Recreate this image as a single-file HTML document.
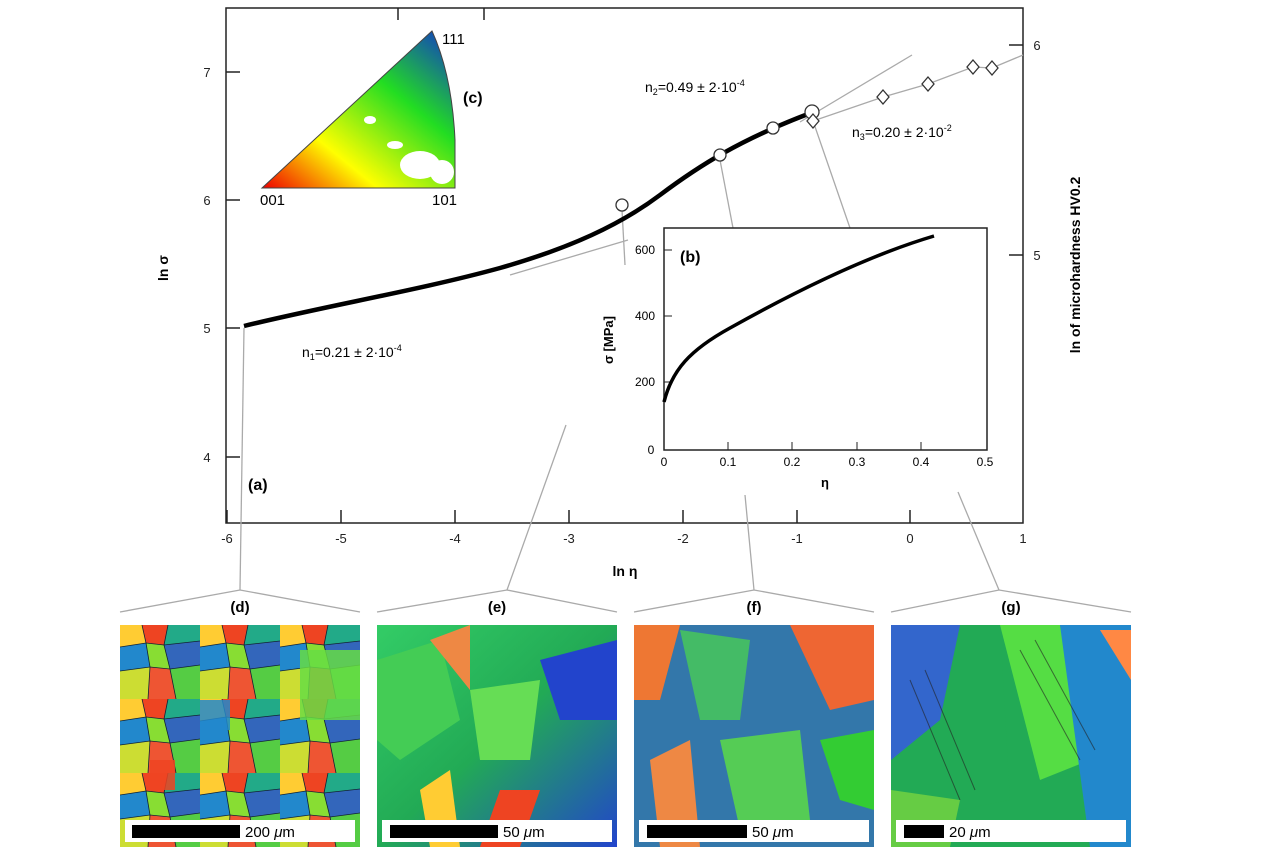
<!DOCTYPE html><html><head><style>body{margin:0;background:#fff}svg{display:block}text{font-family:"Liberation Sans",sans-serif}</style></head><body>
<svg width="1280" height="854" viewBox="0 0 1280 854" xmlns="http://www.w3.org/2000/svg">
<defs>
<linearGradient id="ipf1" x1="0" y1="1" x2="1" y2="0"><stop offset="0" stop-color="#e00"/><stop offset="0.3" stop-color="#ff0"/><stop offset="0.65" stop-color="#2d2"/><stop offset="1" stop-color="#13c"/></linearGradient>
<linearGradient id="ge" x1="0" y1="0" x2="1" y2="1"><stop offset="0" stop-color="#3c6"/><stop offset="0.5" stop-color="#2a5"/><stop offset="1" stop-color="#24c"/></linearGradient>
<pattern id="grains" x="120" y="625" width="80" height="74" patternUnits="userSpaceOnUse">
<rect width="80" height="74" fill="#3a7"/>
<polygon points="0,0 22,0 26,18 0,22" fill="#fc3"/><polygon points="22,0 48,0 44,20 26,18" fill="#e42"/><polygon points="48,0 80,0 80,16 44,20" fill="#2a8"/>
<polygon points="0,22 26,18 30,42 0,46" fill="#28c"/><polygon points="26,18 44,20 50,44 30,42" fill="#8d3"/><polygon points="44,20 80,16 80,40 50,44" fill="#36b"/>
<polygon points="0,46 30,42 28,74 0,74" fill="#cd3"/><polygon points="30,42 50,44 56,74 28,74" fill="#e53"/><polygon points="50,44 80,40 80,74 56,74" fill="#5c4"/>
<g stroke="#123" stroke-width="0.8" fill="none"><polyline points="0,22 26,18 44,20 80,16"/><polyline points="0,46 30,42 50,44 80,40"/><polyline points="22,0 26,18 30,42 28,74"/><polyline points="48,0 44,20 50,44 56,74"/></g>
</pattern>
</defs>
<rect x="226" y="8" width="797" height="515" fill="none" stroke="#222" stroke-width="1.5"/>
<g stroke="#222" stroke-width="1.5">
<line x1="227" y1="523" x2="227" y2="510"/><line x1="341" y1="523" x2="341" y2="510"/><line x1="455" y1="523" x2="455" y2="510"/><line x1="569" y1="523" x2="569" y2="510"/><line x1="683" y1="523" x2="683" y2="510"/><line x1="797" y1="523" x2="797" y2="510"/><line x1="910" y1="523" x2="910" y2="510"/>
<line x1="226" y1="72" x2="240" y2="72"/><line x1="226" y1="200" x2="240" y2="200"/><line x1="226" y1="328" x2="240" y2="328"/><line x1="226" y1="457" x2="240" y2="457"/>
<line x1="1023" y1="45" x2="1009" y2="45"/><line x1="1023" y1="255" x2="1009" y2="255"/>
<line x1="398" y1="8" x2="398" y2="20"/><line x1="484" y1="8" x2="484" y2="20"/>
</g>
<g font-size="13" fill="#222" text-anchor="middle">
<text x="227" y="543">-6</text><text x="341" y="543">-5</text><text x="455" y="543">-4</text><text x="569" y="543">-3</text><text x="683" y="543">-2</text><text x="797" y="543">-1</text><text x="910" y="543">0</text><text x="1023" y="543">1</text>
<text x="207" y="77">7</text><text x="207" y="205">6</text><text x="207" y="333">5</text><text x="207" y="462">4</text>
<text x="1037" y="50">6</text><text x="1037" y="260">5</text>
</g>
<text x="625" y="576" font-size="14" font-weight="bold" text-anchor="middle">ln η</text>
<text transform="translate(168,268) rotate(-90)" font-size="14" font-weight="bold" text-anchor="middle">ln σ</text>
<text transform="translate(1080,265) rotate(-90)" font-size="14" font-weight="bold" text-anchor="middle">ln of microhardness HV0.2</text>
<text x="248" y="490" font-size="16" font-weight="bold">(a)</text>
<g stroke="#aaa" stroke-width="1.3" fill="none">
<line x1="510" y1="275" x2="628" y2="240"/><line x1="800" y1="122" x2="912" y2="55"/>
<polyline points="813,121 883,97 928,84 973,67 992,68 1023,55"/>
<line x1="244" y1="328" x2="240" y2="590"/><line x1="566" y1="425" x2="507" y2="590"/>
<line x1="622" y1="210" x2="625" y2="265"/><line x1="720" y1="160" x2="733" y2="228"/><line x1="812" y1="118" x2="850" y2="228"/>
<line x1="745" y1="495" x2="754" y2="590"/><line x1="958" y1="492" x2="999" y2="590"/>
<polyline points="120,612 240,590 360,612"/><polyline points="377,612 507,590 617,612"/><polyline points="634,612 754,590 874,612"/><polyline points="891,612 999,590 1131,612"/>
</g>
<path d="M244,326 C330,305 420,290 500,268 C570,248 620,225 660,195 C700,165 740,140 808,114" stroke="#000" stroke-width="4.5" fill="none"/>
<g fill="#fff" stroke="#333" stroke-width="1.3">
<circle cx="622" cy="205" r="6"/><circle cx="720" cy="155" r="6"/><circle cx="773" cy="128" r="6"/><circle cx="812" cy="112" r="7"/>
<path d="M813,114 l6,7 -6,7 -6,-7z"/><path d="M883,90 l6,7 -6,7 -6,-7z"/><path d="M928,77 l6,7 -6,7 -6,-7z"/><path d="M973,60 l6,7 -6,7 -6,-7z"/><path d="M992,61 l6,7 -6,7 -6,-7z"/>
</g>
<text x="302" y="357" font-size="14">n<tspan font-size="9" dy="3">1</tspan><tspan dy="-3">=0.21 ± 2·10</tspan><tspan font-size="9" dy="-6">-4</tspan></text>
<text x="645" y="92" font-size="14">n<tspan font-size="9" dy="3">2</tspan><tspan dy="-3">=0.49 ± 2·10</tspan><tspan font-size="9" dy="-6">-4</tspan></text>
<text x="852" y="137" font-size="14">n<tspan font-size="9" dy="3">3</tspan><tspan dy="-3">=0.20 ± 2·10</tspan><tspan font-size="9" dy="-6">-2</tspan></text>
<path d="M262,188 L455,188 L455,140 Q452,75 432,31 Z" fill="url(#ipf1)" stroke="#444"/>
<g fill="#fff"><ellipse cx="420" cy="165" rx="20" ry="14"/><ellipse cx="442" cy="172" rx="12" ry="12"/><ellipse cx="370" cy="120" rx="6" ry="4"/><ellipse cx="395" cy="145" rx="8" ry="4"/></g>
<text x="442" y="44" font-size="15">111</text><text x="260" y="205" font-size="15">001</text><text x="432" y="205" font-size="15">101</text>
<text x="463" y="103" font-size="16" font-weight="bold">(c)</text>
<rect x="664" y="228" width="323" height="222" fill="#fff" stroke="#222" stroke-width="1.5"/>
<g stroke="#222"><line x1="728" y1="450" x2="728" y2="442"/><line x1="792" y1="450" x2="792" y2="442"/><line x1="857" y1="450" x2="857" y2="442"/><line x1="921" y1="450" x2="921" y2="442"/>
<line x1="664" y1="382" x2="672" y2="382"/><line x1="664" y1="316" x2="672" y2="316"/><line x1="664" y1="250" x2="672" y2="250"/></g>
<g font-size="12" text-anchor="middle"><text x="664" y="466">0</text><text x="728" y="466">0.1</text><text x="792" y="466">0.2</text><text x="857" y="466">0.3</text><text x="921" y="466">0.4</text><text x="985" y="466">0.5</text>
<text x="651" y="454">0</text><text x="645" y="386">200</text><text x="645" y="320">400</text><text x="645" y="254">600</text></g>
<text x="825" y="487" font-size="13" font-weight="bold" text-anchor="middle">η</text>
<text transform="translate(613,340) rotate(-90)" font-size="13" font-weight="bold" text-anchor="middle">σ  [MPa]</text>
<text x="680" y="262" font-size="16" font-weight="bold">(b)</text>
<path d="M664,402 C672,370 690,350 730,328 C780,300 860,258 934,236" stroke="#000" stroke-width="3.5" fill="none"/>
<rect x="120" y="625" width="240" height="222" fill="url(#grains)"/>
<g fill-opacity="0.85"><rect x="300" y="650" width="60" height="70" fill="#6d4"/><rect x="200" y="700" width="30" height="30" fill="#28c"/><rect x="150" y="760" width="25" height="30" fill="#e42"/></g>
<rect x="377" y="625" width="240" height="222" fill="url(#ge)"/>
<g><polygon points="377,660 440,640 460,720 400,760 377,740" fill="#4c5"/><polygon points="430,640 470,625 470,690" fill="#e84"/><polygon points="470,690 540,680 530,760 480,760" fill="#6d5"/><polygon points="500,790 540,790 520,847 480,847" fill="#e42"/><polygon points="540,660 617,640 617,720 560,720" fill="#24c"/><polygon points="420,790 450,770 460,847 430,847" fill="#fc3"/></g>
<rect x="634" y="625" width="240" height="222" fill="#37a"/>
<g><polygon points="634,625 680,625 660,700 634,700" fill="#e73"/><polygon points="680,630 750,640 740,720 700,720" fill="#4b6"/><polygon points="790,625 874,625 874,700 830,710" fill="#e63"/><polygon points="720,740 800,730 810,820 740,830" fill="#5c5"/><polygon points="820,740 874,730 874,810 840,800" fill="#3c3"/><polygon points="650,760 690,740 700,847 660,847" fill="#e84"/></g>
<rect x="891" y="625" width="240" height="222" fill="#2a5"/>
<g><polygon points="891,625 960,625 940,720 891,760" fill="#36c"/><polygon points="960,625 1000,625 1010,800 960,810" fill="#2a5"/><polygon points="1000,625 1060,625 1090,760 1040,780" fill="#5d4"/><polygon points="1060,625 1131,625 1131,847 1090,847" fill="#28c"/><polygon points="1100,630 1131,630 1131,680" fill="#f84"/><polygon points="891,790 960,800 950,847 891,847" fill="#6c4"/></g>
<g stroke="#222" stroke-width="1" opacity="0.6"><line x1="910" y1="680" x2="960" y2="800"/><line x1="925" y1="670" x2="975" y2="790"/><line x1="1020" y1="650" x2="1080" y2="760"/><line x1="1035" y1="640" x2="1095" y2="750"/></g>
<g fill="#fff"><rect x="125" y="820" width="230" height="22"/><rect x="382" y="820" width="230" height="22"/><rect x="639" y="820" width="230" height="22"/><rect x="896" y="820" width="230" height="22"/></g>
<g fill="#000"><rect x="132" y="825" width="108" height="13"/><rect x="390" y="825" width="108" height="13"/><rect x="647" y="825" width="100" height="13"/><rect x="904" y="825" width="40" height="13"/></g>
<g font-size="15" font-family="Liberation Serif"><text x="245" y="837">200 <tspan font-style="italic">μ</tspan>m</text><text x="503" y="837">50 <tspan font-style="italic">μ</tspan>m</text><text x="752" y="837">50 <tspan font-style="italic">μ</tspan>m</text><text x="949" y="837">20 <tspan font-style="italic">μ</tspan>m</text></g>
<g font-size="15" font-weight="bold" text-anchor="middle"><text x="240" y="612">(d)</text><text x="497" y="612">(e)</text><text x="754" y="612">(f)</text><text x="1011" y="612">(g)</text></g>
</svg></body></html>
